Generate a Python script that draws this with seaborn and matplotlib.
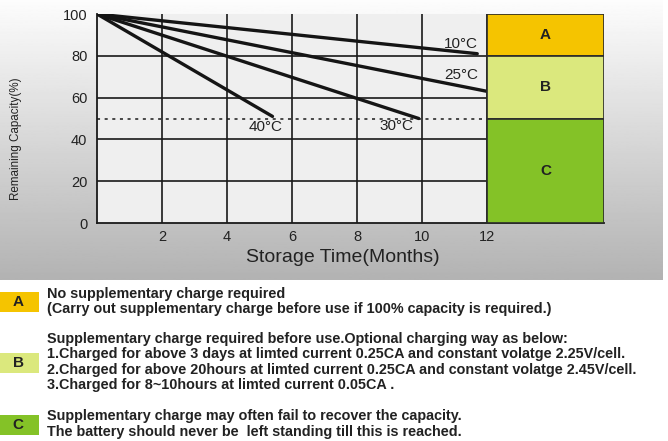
import numpy as np
import pandas as pd
import seaborn as sns
import matplotlib.pyplot as plt
from matplotlib.patches import Rectangle

# Data
temps = ["10°C", "25°C", "30°C", "40°C"]
start_month = 0
start_capacity = 100
end_months = [11.7, 12.0, 9.9, 5.4]
end_capacity = [81, 63, 50, 51]
label_x = [11.2, 11.2, 9.2, 5.2]
label_y = [85.5, 71, 46.5, 46]

x_ticks = [2, 4, 6, 8, 10, 12]
y_ticks = [0, 20, 40, 60, 80, 100]
threshold = 50

zones = ["A", "B", "C"]
zone_top = [100, 80, 50]
zone_bottom = [80, 50, 0]
zone_colors = ["#f5c400", "#dbe87d", "#84c227"]
zone_text = [
    "No supplementary charge required\n"
    "(Carry out supplementary charge before use if 100% capacity is required.)",
    "Supplementary charge required before use.Optional charging way as below:\n"
    "1.Charged for above 3 days at limted current 0.25CA and constant volatge 2.25V/cell.\n"
    "2.Charged for above 20hours at limted current 0.25CA and constant volatge 2.45V/cell.\n"
    "3.Charged for 8~10hours at limted current 0.05CA .",
    "Supplementary charge may often fail to recover the capacity.\n"
    "The battery should never be  left standing till this is reached.",
]

# long form table for seaborn
rows = []
for t, m, c in zip(temps, end_months, end_capacity):
    rows.append({"temp": t, "month": start_month, "capacity": start_capacity})
    rows.append({"temp": t, "month": m, "capacity": c})
df = pd.DataFrame(rows)

sns.set_theme(style="white")
plt.rcParams["font.family"] = ["Liberation Sans", "DejaVu Sans"]

fig = plt.figure(figsize=(6.68, 4.41), dpi=100)
fig.patch.set_facecolor("white")

# gray gradient behind the chart part
bg = fig.add_axes([0, 1 - 280 / 441, 663 / 668, 280 / 441], zorder=-5)
grad = np.linspace(0.99, 0.70, 256).reshape(-1, 1)
bg.imshow(grad, cmap="gray", vmin=0, vmax=1, aspect="auto", extent=[0, 1, 0, 1])
bg.axis("off")

ax = fig.add_axes([97 / 668, 1 - 223 / 441, (604 - 97) / 668, (223 - 14) / 441])
ax.set_facecolor("#efefef")
ax.set_xlim(0, 15.6)
ax.set_ylim(0, 100)

# grid only inside the 0-12 month area
for xv in x_ticks:
    ax.axvline(xv, color="#1a1a1a", lw=1.2, zorder=1)
for yv in y_ticks[1:-1]:
    ax.hlines(yv, 0, 12, color="#1a1a1a", lw=1.2, zorder=1)

ax.hlines(threshold, 0, 12, color="#1a1a1a", lw=1.1, linestyles=(0, (2, 3)), zorder=2)

sns.lineplot(data=df, x="month", y="capacity", hue="temp",
             palette=["#151515"] * len(temps), lw=2.4, legend=False, ax=ax, zorder=3)

for t, lx, ly in zip(temps, label_x, label_y):
    ax.text(lx, ly, t, ha="center", va="center", fontsize=11, color="#222222", zorder=4)

# zone boxes on the right
zone_h = [tp - bt for tp, bt in zip(zone_top, zone_bottom)]
ax.bar([13.8] * 3, zone_h, bottom=zone_bottom, width=3.6, color=zone_colors,
       edgecolor="#2a2a2a", linewidth=1.2, zorder=5)
for z, tp, bt in zip(zones, zone_top, zone_bottom):
    ax.text(13.8, (tp + bt) / 2, z, ha="center", va="center", fontsize=11,
            fontweight="bold", color="#222222", zorder=6)

ax.set_xticks(x_ticks)
ax.set_yticks(y_ticks)
ax.tick_params(length=0, labelsize=10.5, colors="#222222")
ax.tick_params(axis="x", pad=5)
ax.tick_params(axis="y", pad=7)
ax.set_xlabel("")
ax.set_ylabel("")
for s in ["top", "right"]:
    ax.spines[s].set_visible(False)
for s in ["left", "bottom"]:
    ax.spines[s].set_color("#1a1a1a")
    ax.spines[s].set_linewidth(1.3)

fig.text(343 / 668, 1 - 258 / 441, "Storage Time(Months)", ha="center", va="center",
         fontsize=14, color="#222222")
fig.text(16 / 668, 1 - 139 / 441, "Remaining Capacity(%)", ha="center", va="center",
         rotation=90, fontsize=8.4, color="#222222")

# legend boxes and explanations at the bottom
box_y = [292, 353, 415]
text_y = [301.5, 362, 424]
for z, c, by, ty, txt in zip(zones, zone_colors, box_y, text_y, zone_text):
    fig.add_artist(Rectangle((0, 1 - (by + 20) / 441), 39 / 668, 20 / 441,
                             transform=fig.transFigure, facecolor=c, edgecolor="none"))
    fig.text(18 / 668, 1 - (by + 10) / 441, z, ha="center", va="center",
             fontsize=11, fontweight="bold", color="#222222")
    fig.text(47 / 668, 1 - ty / 441, txt, ha="left", va="center", fontsize=10.4,
             fontweight="bold", color="#222222", linespacing=1.13)

fig.savefig("out.png", dpi=100)
